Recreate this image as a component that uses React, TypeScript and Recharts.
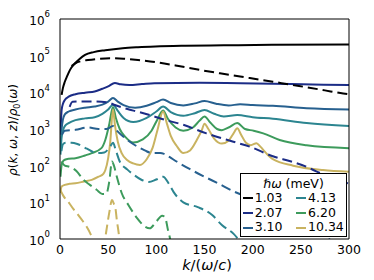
import { Line, LineChart, XAxis, YAxis } from "recharts";

type Pt = [number, number];

const FONT = "'DejaVu Sans', sans-serif";

const energies = ["1.03", "2.07", "3.10", "4.13", "6.20", "10.34"];
const colors = ["#000000", "#1b2c86", "#27608f", "#2c8590", "#3d9b5c", "#c9b360"];
const xTicks = [0, 50, 100, 150, 200, 250, 300];
const yTicks = [1, 10, 100, 1000, 10000, 100000, 1000000];
const yMinor = yTicks.slice(0, -1).flatMap((d) => [2, 3, 4, 5, 6, 7, 8, 9].map((m) => m * d));

// solid curves, [k, rho]
const solid103: Pt[] = [
  [1.7, 8500], [3, 13000], [5, 19500], [7.5, 28000], [10.4, 41000], [15.6, 62000], [20, 80000],
  [26, 105000], [35, 125000], [47, 141000], [65, 160000], [81, 170000], [99, 178000], [130, 186000],
  [170, 192000], [220, 197000], [300, 202000],
];
const solid207: Pt[] = [
  [0.5, 700], [1.7, 3300], [3, 4800], [5, 6200], [9, 7600], [16, 8900], [26, 9800], [36, 10500],
  [44, 12500], [50, 14500], [57, 18000], [63, 16500], [72, 15800], [85, 16800], [98, 17800],
  [145, 18200], [187, 17800], [240, 16800], [300, 15800],
];
const solid310: Pt[] = [
  [0.5, 300], [1.7, 1000], [3, 1800], [5, 2500], [9, 3000], [16, 3400], [26, 3800], [36, 4100],
  [44, 4600], [50, 5600], [55, 7000], [60, 5600], [66, 4500], [78, 3800], [90, 4300], [100, 5400],
  [107, 6400], [115, 5100], [128, 4400], [140, 5000], [150, 5800], [162, 4900], [175, 4400],
  [187, 4700], [200, 4500], [221, 4300], [256, 3700], [300, 3400],
];
const solid413: Pt[] = [
  [0.5, 200], [1.7, 600], [3, 900], [5, 1200], [9, 1450], [16, 1750], [26, 1950], [36, 2100],
  [44, 2600], [50, 3400], [55, 4600], [60, 3100], [66, 2000], [76, 1550], [90, 2000], [100, 3000],
  [107, 4100], [115, 2900], [128, 2300], [140, 2700], [150, 3300], [160, 2600], [170, 2200],
  [184, 2400], [200, 2100], [221, 1900], [256, 1450], [300, 1200],
];
const solid620: Pt[] = [
  [0.5, 50], [1.7, 105], [3, 130], [5, 145], [9, 155], [16, 160], [26, 190], [33, 220], [43, 300],
  [47, 500], [51, 1300], [55, 4000], [58, 2000], [62, 1000], [68, 600], [76, 430], [86, 520],
  [95, 900], [101, 1800], [107, 3200], [112, 1900], [120, 1100], [128, 900], [138, 1100],
  [145, 1700], [150, 2200], [156, 1500], [163, 1000], [168, 930], [175, 1100], [184, 1450],
  [192, 1000], [201, 900], [211, 760], [228, 500], [256, 360], [300, 300],
];
const solid1034: Pt[] = [
  [0.3, 18], [1.7, 27], [5, 30], [10, 32], [16, 33], [25, 37], [33, 41], [40, 50], [45, 60],
  [47, 75], [50, 160], [52, 400], [55, 3400], [57, 1300], [60, 450], [64, 220], [70, 140],
  [76, 115], [83, 105], [90, 150], [96, 300], [101, 900], [107, 3000], [111, 1400], [115, 650],
  [121, 350], [128, 220], [135, 260], [142, 500], [147, 900], [150, 1400], [154, 1000], [160, 550],
  [168, 400], [175, 480], [180, 750], [184, 1050], [188, 700], [193, 420], [198, 360], [204, 410],
  [208, 330], [214, 220], [221, 150], [242, 100], [273, 76], [300, 68],
];

// dashed curves, [k, rho]
const dashed103: Pt[] = [
  [12, 52000], [16, 62000], [22, 71000], [29, 76000], [40, 82000], [52, 85000], [66, 83000],
  [81, 76000], [100, 66000], [120, 54000], [145, 41000], [166, 33000], [187, 27000], [197, 24500],
  [221, 19500], [240, 16000], [256, 13800], [275, 11300], [294, 9300], [300, 8900],
];
const dashed207: Pt[] = [
  [10, 4000], [13, 5500], [20, 5600], [35, 5600], [50, 5300], [57, 4500], [70, 3500], [81, 2950],
  [93, 2400], [110, 1750], [128, 1300], [152, 760], [180, 450], [197, 330], [221, 180], [240, 130],
  [256, 93], [266, 70], [285, 45], [300, 32],
];
const dashed310: Pt[] = [
  [2, 700], [5, 900], [16, 950], [29, 1100], [40, 1000], [48, 1000], [55, 1200], [60, 850],
  [68, 550], [78, 360], [88, 260], [96, 220], [104, 220], [108, 210], [114, 170], [121, 130],
  [135, 80], [150, 50], [165, 32], [180, 20], [200, 12.5], [215, 9], [242, 4], [265, 1.7],
  [285, 0.8], [300, 0.45],
];
const dashed413: Pt[] = [
  [1.5, 250], [3, 380], [6, 420], [12, 420], [18, 390], [28, 290], [38, 220], [46, 230], [52, 330],
  [55, 420], [58, 260], [62, 130], [70, 78], [76, 58], [84, 42], [92, 36], [100, 42], [107, 50],
  [113, 32], [118, 19], [128, 10], [143, 7.4], [158, 4.5], [168, 2.4], [180, 1.4], [188, 0.8],
  [200, 0.35],
];
const dashed620: Pt[] = [
  [1.5, 130], [5, 100], [10, 93], [17, 72], [24, 42], [31, 30], [38, 22], [44, 17], [48, 17],
  [51, 35], [54, 130], [56, 100], [59, 50], [64, 18], [71, 8.5], [80, 3.7], [88, 2.2], [93, 1.95],
  [100, 3], [106, 4.3], [109, 4], [112, 1.8], [114, 1.1], [117, 0.4], [120, 0.15],
];
const dashed1034: Pt[] = [
  [0.3, 22], [3.5, 15], [9, 10], [14, 6.5], [19, 4.5], [24, 3], [28, 2.1], [31, 1.5], [35, 0.8],
  [38, 0.4], [42, 0.3], [45, 0.5], [48, 1.6], [51, 5], [54, 11.5], [56, 9], [57.5, 7], [59, 3.3],
  [61, 1.4], [63, 0.5], [66, 0.2],
];

const solids = [solid103, solid207, solid310, solid413, solid620, solid1034];
const dashes = [dashed103, dashed207, dashed310, dashed413, dashed620, dashed1034];

const rows = (pts: Pt[]) => pts.map(([k, v]) => ({ k, v }));

const PowTick = (props: any) => {
  const { x, y, payload } = props;
  const exp = Math.round(Math.log10(payload.value));
  return (
    <text x={x} y={y} textAnchor="end" fill="#000" fontSize={12} fontFamily={FONT}>
      <tspan dy="0.5em">10</tspan>
      <tspan dy="-0.9em" fontSize={8.5}>{exp}</tspan>
    </text>
  );
};

const axisLine = { stroke: "#000", strokeWidth: 1 };
const tickLine = { stroke: "#000", strokeWidth: 1 };

export default function App() {
  return (
    <div style={{ position: "relative", width: 358, height: 264, fontFamily: FONT }}>
      <LineChart width={358} height={264} margin={{ top: 11, right: 17, bottom: 0, left: 0 }}>
        <XAxis
          xAxisId="x" type="number" dataKey="k" domain={[0, 300]} ticks={xTicks} interval={0}
          allowDataOverflow tickLine={false} tickSize={0} tickMargin={6} height={33}
          axisLine={axisLine} tick={{ fill: "#000", fontSize: 12.5, fontFamily: FONT }}
        />
        <XAxis
          xAxisId="xin" type="number" domain={[0, 300]} ticks={xTicks} interval={0} mirror
          tick={false} tickSize={4} tickLine={tickLine} axisLine={false}
        />
        <XAxis
          xAxisId="xtop" orientation="top" type="number" domain={[0, 300]} ticks={xTicks}
          interval={0} mirror tick={false} tickSize={4} tickLine={tickLine} axisLine={axisLine}
        />
        <YAxis
          yAxisId="y" scale="log" type="number" domain={[1, 1000000]} ticks={yTicks} interval={0}
          allowDataOverflow width={52} tickLine={false} tickSize={0} tickMargin={10}
          axisLine={axisLine} tick={<PowTick />}
        />
        <YAxis
          yAxisId="yin" scale="log" type="number" domain={[1, 1000000]} ticks={yTicks} interval={0}
          mirror tick={false} tickSize={4} tickLine={tickLine} axisLine={false}
        />
        <YAxis
          yAxisId="yinMinor" scale="log" type="number" domain={[1, 1000000]} ticks={yMinor}
          interval={0} mirror tick={false} tickSize={2} tickLine={tickLine} axisLine={false}
        />
        <YAxis
          yAxisId="yr" orientation="right" scale="log" type="number" domain={[1, 1000000]}
          ticks={yTicks} interval={0} mirror tick={false} tickSize={4} tickLine={tickLine}
          axisLine={axisLine}
        />
        <YAxis
          yAxisId="yrMinor" orientation="right" scale="log" type="number" domain={[1, 1000000]}
          ticks={yMinor} interval={0} mirror tick={false} tickSize={2} tickLine={tickLine}
          axisLine={false}
        />
        {solids.map((pts, i) => (
          <Line
            key={"s" + i} xAxisId="x" yAxisId="y" data={rows(pts)} dataKey="v" type="monotone"
            stroke={colors[i]} strokeWidth={2} dot={false} isAnimationActive={false}
          />
        ))}
        {dashes.map((pts, i) => (
          <Line
            key={"d" + i} xAxisId="x" yAxisId="y" data={rows(pts)} dataKey="v" type="monotone"
            stroke={colors[i]} strokeWidth={2} strokeDasharray="10 5" dot={false}
            isAnimationActive={false}
          />
        ))}
      </LineChart>

      <div
        style={{
          position: "absolute", left: 6, top: 122, transform: "translate(-50%, -50%) rotate(-90deg)",
          whiteSpace: "nowrap", fontSize: 12, lineHeight: 1,
        }}
      >
        <i>ρ</i>(<i>k</i>, <i>ω</i>, <i>z</i>)/<i>ρ</i>
        <span style={{ fontSize: 8, verticalAlign: -3 }}>0</span>(<i>ω</i>)
      </div>
      <div
        style={{
          position: "absolute", left: 199, top: 257, transform: "translate(-50%, -50%)",
          whiteSpace: "nowrap", fontSize: 14.5, lineHeight: 1,
        }}
      >
        <i>k</i>/(<i>ω</i>/<i>c</i>)
      </div>

      <div
        style={{
          position: "absolute", left: 232, top: 165, width: 107, height: 64, boxSizing: "border-box",
          border: "1px solid #000", background: "#fff", fontSize: 12.5,
        }}
      >
        <div style={{ position: "absolute", left: 0, right: 0, top: 2.5, height: 14.6, textAlign: "center", lineHeight: "14.6px" }}>
          <i>ℏω</i> (meV)
        </div>
        {energies.map((e, i) => {
          const col = i < 3 ? 0 : 1;
          const row = i % 3;
          const left = col === 0 ? 1.7 : 55;
          const top = 17.1 + row * 14.6;
          return (
            <div key={e} style={{ position: "absolute", left, top, height: 14.6, lineHeight: "14.6px" }}>
              <span
                style={{
                  position: "absolute", left: 0, top: 6.3, width: 10, height: 2, background: colors[i],
                }}
              />
              <span style={{ position: "absolute", left: 12, top: 0, whiteSpace: "nowrap" }}>{e}</span>
            </div>
          );
        })}
      </div>
    </div>
  );
}
